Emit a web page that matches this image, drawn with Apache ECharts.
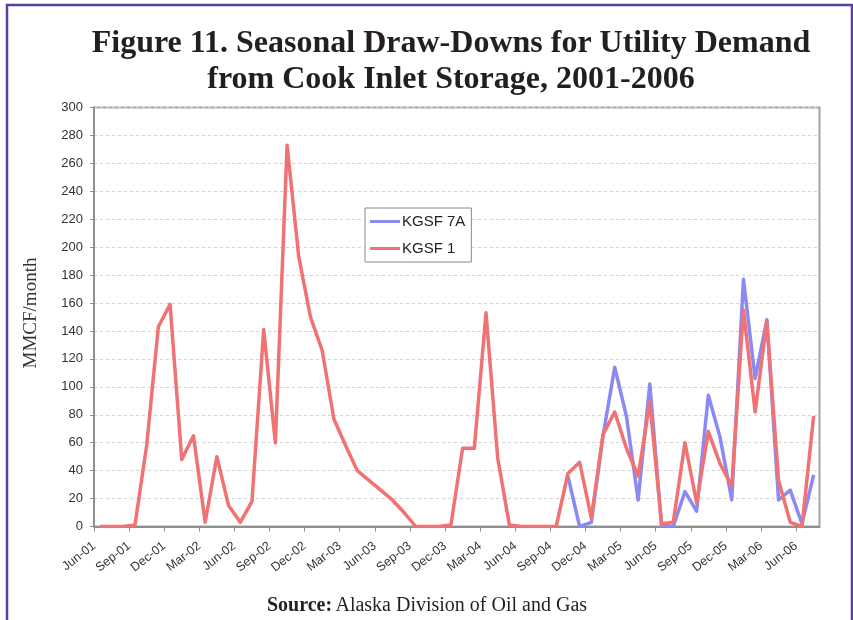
<!DOCTYPE html>
<html>
<head>
<meta charset="utf-8">
<script src="https://cdn.jsdelivr.net/npm/echarts@6/dist/echarts.min.js"></script>
<style>
  html, body { margin: 0; padding: 0; background: #ffffff; }
  #chart { width: 853px; height: 620px; }
</style>
</head>
<body>
<div id="chart"></div>
<script>
// Monthly periods, Jun-01 through Jul-06
const months = [
  'Jun-01','Jul-01','Aug-01','Sep-01','Oct-01','Nov-01','Dec-01','Jan-02','Feb-02','Mar-02','Apr-02','May-02',
  'Jun-02','Jul-02','Aug-02','Sep-02','Oct-02','Nov-02','Dec-02','Jan-03','Feb-03','Mar-03','Apr-03','May-03',
  'Jun-03','Jul-03','Aug-03','Sep-03','Oct-03','Nov-03','Dec-03','Jan-04','Feb-04','Mar-04','Apr-04','May-04',
  'Jun-04','Jul-04','Aug-04','Sep-04','Oct-04','Nov-04','Dec-04','Jan-05','Feb-05','Mar-05','Apr-05','May-05',
  'Jun-05','Jul-05','Aug-05','Sep-05','Oct-05','Nov-05','Dec-05','Jan-06','Feb-06','Mar-06','Apr-06','May-06',
  'Jun-06','Jul-06'
];

// Quarterly tick labels on the time axis
const tickLabels = [
  'Jun-01','Sep-01','Dec-01','Mar-02','Jun-02','Sep-02','Dec-02','Mar-03','Jun-03','Sep-03','Dec-03',
  'Mar-04','Jun-04','Sep-04','Dec-04','Mar-05','Jun-05','Sep-05','Dec-05','Mar-06','Jun-06'
];

// Draw-downs, MMCF per month (KGSF 7A reported from Oct-04)
const kgsf7a = [
  null,null,null,null,null,null,null,null,null,null,null,null,
  null,null,null,null,null,null,null,null,null,null,null,null,
  null,null,null,null,null,null,null,null,null,null,null,null,
  null,null,null,null,36,0,3,65,114,79,19,102,
  1,0,25,11,94,64,19,177,106,148,19,26,
  2,37
];
const kgsf1 = [
  0,0,0,1,58,143,159,48,65,3,50,15,
  3,18,141,60,273,193,150,126,77,58,40,33,
  26,19,10,0,0,0,1,56,56,153,49,1,
  0,0,0,0,38,46,6,66,82,56,36,89,
  2,3,60,17,68,45,29,155,82,147,33,3,
  0,79
];

const yTicks = { min: 0, max: 300, step: 20 };

// each month is plotted at the middle of its slot; ticks mark the month starts
const toPoints = arr => arr
  .map((v, i) => [i + 0.5, v])
  .filter(p => p[1] !== null);

const tickPositions = tickLabels.map((_, k) => k * 3);

const chart = echarts.init(document.getElementById('chart'));

chart.setOption({
  animation: false,
  backgroundColor: '#ffffff',
  title: {
    text: 'Figure 11. Seasonal Draw-Downs for Utility Demand\nfrom Cook Inlet Storage, 2001-2006',
    left: 446,
    top: 21,
    textAlign: 'center',
    textStyle: {
      fontFamily: 'Liberation Serif',
      fontWeight: 'bold',
      fontSize: 32,
      lineHeight: 36,
      color: '#231f20'
    }
  },
  legend: {
    orient: 'vertical',
    left: 365,
    top: 208,
    data: ['KGSF 7A', 'KGSF 1'],
    icon: 'rect',
    itemWidth: 30,
    itemHeight: 3,
    itemGap: 12,
    padding: [6, 6, 6, 5],
    borderColor: '#8a8a8a',
    borderWidth: 1,
    backgroundColor: '#ffffff',
    textStyle: {
      fontFamily: 'Liberation Sans',
      fontSize: 15,
      color: '#222222',
      padding: [0, 0, 0, -3]
    }
  },
  grid: {
    left: 94,
    top: 107.5,
    width: 725.5,
    height: 419,
    show: true,
    borderColor: '#a3a3a3',
    borderWidth: 2,
    containLabel: false
  },
  xAxis: {
    type: 'value',
    min: 0,
    max: months.length,
    interval: 3,
    axisLine: { show: true, lineStyle: { color: '#8f8f8f', width: 2 } },
    axisTick: {
      show: true,
      length: 5,
      customValues: tickPositions,
      lineStyle: { color: '#8f8f8f', width: 1 }
    },
    axisLabel: {
      customValues: tickPositions,
      rotate: 38,
      margin: 18,
      fontFamily: 'Liberation Sans',
      fontSize: 12.5,
      color: '#333333',
      formatter: v => tickLabels[Math.round(v / 3)] || ''
    },
    splitLine: { show: false }
  },
  yAxis: {
    type: 'value',
    min: yTicks.min,
    max: yTicks.max,
    interval: yTicks.step,
    axisLine: { show: true, lineStyle: { color: '#8f8f8f', width: 2 } },
    axisTick: { show: true, length: 4, lineStyle: { color: '#8f8f8f', width: 1 } },
    axisLabel: {
      margin: 11,
      fontFamily: 'Liberation Sans',
      fontSize: 13,
      color: '#333333'
    },
    splitLine: {
      show: true,
      lineStyle: { color: '#d2d2d2', width: 1, type: [3, 3] }
    }
  },
  series: [
    {
      name: 'KGSF 7A',
      type: 'line',
      data: toPoints(kgsf7a),
      symbol: 'none',
      color: '#8a8af2',
      lineStyle: { width: 3.5, color: '#8a8af2', join: 'round' }
    },
    {
      name: 'KGSF 1',
      type: 'line',
      data: toPoints(kgsf1),
      symbol: 'none',
      color: '#f07272',
      lineStyle: { width: 3.5, color: '#f07272', join: 'round' }
    }
  ],
  graphic: [
    {
      type: 'rect',
      z: -10,
      silent: true,
      shape: { x: 7, y: 5, width: 845, height: 640 },
      style: { fill: 'none', stroke: '#5b3f9e', lineWidth: 2.5 }
    },
    {
      type: 'text',
      x: 31,
      y: 313,
      rotation: Math.PI / 2,
      silent: true,
      style: {
        text: 'MMCF/month',
        font: '19px "Liberation Serif"',
        fill: '#333333',
        align: 'center',
        verticalAlign: 'middle'
      }
    },
    {
      type: 'text',
      x: 427,
      y: 606,
      silent: true,
      style: {
        text: '{b|Source:} {r|Alaska Division of Oil and Gas}',
        align: 'center',
        verticalAlign: 'middle',
        rich: {
          b: { fontFamily: 'Liberation Serif', fontWeight: 'bold', fontSize: 20, fill: '#231f20' },
          r: { fontFamily: 'Liberation Serif', fontSize: 20, fill: '#231f20' }
        }
      }
    }
  ]
});
</script>
</body>
</html>
